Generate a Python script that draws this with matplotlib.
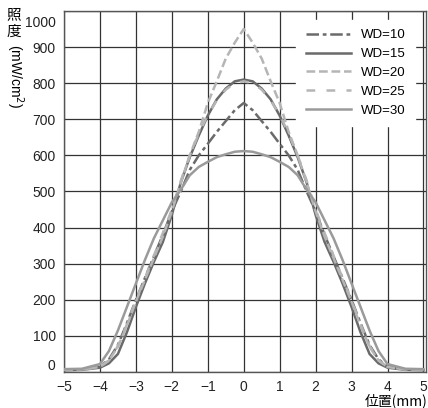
import matplotlib
matplotlib.use("Agg")
import matplotlib.pyplot as plt
import matplotlib.transforms as mtransforms

plt.rcParams['font.family'] = ['Liberation Sans', 'DejaVu Sans']

# positions (mm)
pos = [-5, -4.5, -4, -3.75, -3.5, -3.25, -3, -2.75, -2.5, -2.25, -2, -1.75, -1.5, -1.25,
       -1, -0.75, -0.5, -0.25, 0, 0.25, 0.5, 0.75, 1, 1.25, 1.5, 1.75, 2, 2.25, 2.5,
       2.75, 3, 3.25, 3.5, 3.75, 4, 4.5, 5]

# irradiance (mW/cm2) per working distance
wd10 = [6, 7, 15, 35, 75, 135, 200, 260, 320, 380, 445, 500, 560, 600,
        632, 665, 695, 725, 745, 725, 695, 665, 632, 600, 560, 500, 445, 380, 320,
        260, 200, 135, 75, 35, 15, 7, 6]
wd15 = [5, 6, 12, 24, 50, 110, 180, 245, 305, 360, 435, 525, 595, 655,
        710, 755, 785, 805, 810, 805, 785, 755, 710, 655, 595, 525, 435, 360, 305,
        245, 180, 110, 50, 24, 12, 6, 5]
wd20 = [6, 7, 14, 32, 70, 128, 195, 255, 315, 375, 445, 525, 600, 665,
        745, 805, 868, 912, 950, 912, 868, 805, 745, 665, 600, 525, 445, 375, 315,
        255, 195, 128, 70, 32, 14, 7, 6]
wd25 = [6, 7, 14, 32, 72, 132, 198, 260, 322, 385, 450, 530, 600, 660,
        712, 752, 782, 800, 805, 800, 782, 752, 712, 660, 600, 530, 450, 385, 322,
        260, 198, 132, 72, 32, 14, 7, 6]
wd30 = [8, 9, 22, 58, 115, 180, 245, 310, 370, 420, 470, 505, 545, 568,
        582, 595, 603, 610, 612, 610, 603, 595, 582, 568, 545, 505, 470, 420, 370,
        310, 245, 180, 115, 58, 22, 9, 8]

labels = ['WD=10', 'WD=15', 'WD=20', 'WD=25', 'WD=30']
xticks = [-5, -4, -3, -2, -1, 0, 1, 2, 3, 4, 5]
yticks = [0, 100, 200, 300, 400, 500, 600, 700, 800, 900, 1000]

fig = plt.figure(figsize=(4.28, 4.08), dpi=100)
ax = fig.add_axes([0.1495, 0.0882, 0.8458, 0.885])

styles = [
    dict(color='#6a6a6a', dashes=(5, 1.5, 1.5, 1.5)),
    dict(color='#6a6a6a', linestyle='-'),
    dict(color='#b5b5b5', dashes=(3.5, 1.5)),
    dict(color='#b5b5b5', dashes=(3.5, 4.5)),
    dict(color='#9a9a9a', linestyle='-'),
]
series = [wd10, wd15, wd20, wd25, wd30]
# draw order so that the dark solid stays visible
for i in [4, 3, 2, 0, 1]:
    ax.plot(pos, series[i], lw=1.8, label=labels[i], zorder=3 + i * 0.1, **styles[i])

ax.set_xlim(-5, 5.07)
ax.set_ylim(0, 1000)
ax.set_xticks(xticks)
ax.set_xticklabels([str(t).replace('-', '\u2212') for t in xticks])
ax.set_yticks(yticks)
ax.set_yticklabels([str(t) for t in yticks])
ax.tick_params(length=0, labelsize=10, colors='#222222', pad=6)
ax.grid(True, color='#333333', lw=0.9)
ax.set_axisbelow(True)
for s in ax.spines.values():
    s.set_color('#555555')
    s.set_linewidth(1)

# end labels sit inside the frame
ylabs = ax.get_yticklabels()
ylabs[0].set_transform(ylabs[0].get_transform() +
                       mtransforms.ScaledTranslation(0, 8 / 100, fig.dpi_scale_trans))
ylabs[-1].set_transform(ylabs[-1].get_transform() +
                        mtransforms.ScaledTranslation(0, -11 / 100, fig.dpi_scale_trans))

handles, labs = ax.get_legend_handles_labels()
order = [labs.index(l) for l in labels]
leg = ax.legend([handles[k] for k in order], [labs[k] for k in order],
                loc='upper right', bbox_to_anchor=(0.97, 0.975), fontsize=9.5,
                handlelength=3.4, handletextpad=0.8, labelspacing=0.5,
                borderpad=0.7, borderaxespad=0, frameon=True, fancybox=False)
leg.get_frame().set_facecolor('white')
leg.get_frame().set_edgecolor('white')
leg.get_frame().set_alpha(1)
leg.set_zorder(5)

cjk = ['Noto Sans CJK JP', 'Liberation Sans', 'DejaVu Sans']
fig.text(0.032, 0.98, '照', family=cjk, fontsize=10.5, ha='center', va='top')
fig.text(0.032, 0.94, '度', family=cjk, fontsize=10.5, ha='center', va='top')
fig.text(0.034, 0.892, '(mW/cm$^2$)', fontsize=10, rotation=-90, ha='center', va='top')
fig.text(0.998, 0.018, '位置(mm)', family=cjk, fontsize=10, ha='right', va='center')

fig.savefig('out.png', dpi=100)
